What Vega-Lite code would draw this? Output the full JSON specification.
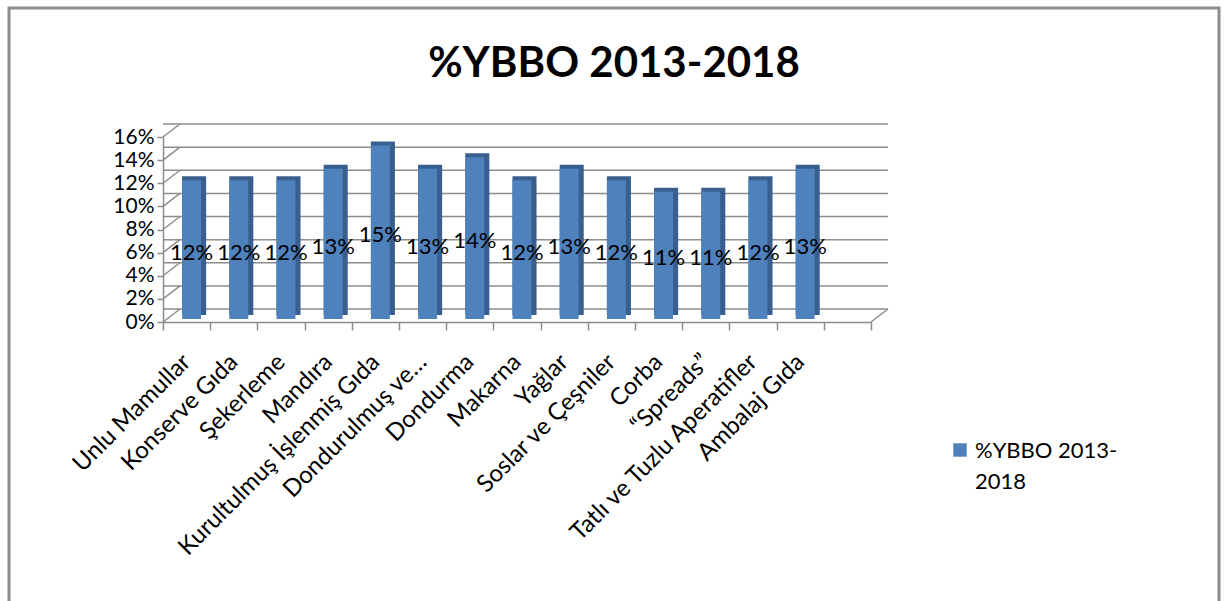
{
  "$schema": "https://vega.github.io/schema/vega-lite/v6.json",
  "width": 708,
  "height": 185,
  "autosize": {"type": "none"},
  "padding": {"left": 163, "top": 137, "right": 361, "bottom": 279},
  "background": "white",
  "config": {"view": {"stroke": null}, "font": "Lato"},
  "title": {
    "text": "%YBBO 2013-2018",
    "font": "Lato",
    "fontSize": 42,
    "fontWeight": "bold",
    "color": "black",
    "anchor": "middle",
    "frame": "group",
    "dx": 97,
    "baseline": "alphabetic",
    "offset": -112
  },
  "datasets": {
    "main": [
      {"cat": "Unlu  Mamullar", "v": 0.12, "series": "%YBBO 2013-2018"},
      {"cat": "Konserve Gıda", "v": 0.12, "series": "%YBBO 2013-2018"},
      {"cat": "Şekerleme", "v": 0.12, "series": "%YBBO 2013-2018"},
      {"cat": "Mandıra", "v": 0.13, "series": "%YBBO 2013-2018"},
      {"cat": "Kurultulmuş İşlenmiş Gıda", "v": 0.15, "series": "%YBBO 2013-2018"},
      {"cat": "Dondurulmuş ve…", "v": 0.13, "series": "%YBBO 2013-2018"},
      {"cat": "Dondurma", "v": 0.14, "series": "%YBBO 2013-2018"},
      {"cat": "Makarna", "v": 0.12, "series": "%YBBO 2013-2018"},
      {"cat": "Yağlar", "v": 0.13, "series": "%YBBO 2013-2018"},
      {"cat": "Soslar ve Çeşniler", "v": 0.12, "series": "%YBBO 2013-2018"},
      {"cat": "Corba", "v": 0.11, "series": "%YBBO 2013-2018"},
      {"cat": "“Spreads”", "v": 0.11, "series": "%YBBO 2013-2018"},
      {"cat": "Tatlı ve Tuzlu Aperatifler", "v": 0.12, "series": "%YBBO 2013-2018"},
      {"cat": "Ambalaj Gıda", "v": 0.13, "series": "%YBBO 2013-2018"}
    ],
    "grid": [
      {"g": 0}, {"g": 0.02}, {"g": 0.04}, {"g": 0.06}, {"g": 0.08},
      {"g": 0.1}, {"g": 0.12}, {"g": 0.14}, {"g": 0.16}
    ]
  },
  "resolve": {"scale": {"y": "independent"}},
  "layer": [
    {
      "data": {"values": [{}]},
      "mark": {"type": "rect", "fill": null, "stroke": "#8c8c8c", "strokeWidth": 3},
      "encoding": {
        "x": {"value": -154},
        "x2": {"value": 1056},
        "y": {"value": -129},
        "y2": {"value": 480}
      }
    },
    {
      "data": {"name": "grid"},
      "mark": {"type": "rule", "color": "#8c8c8c", "strokeWidth": 1.5, "xOffset": 17, "yOffset": -13},
      "encoding": {
        "y": {
          "field": "g", "type": "quantitative",
          "scale": {"domain": [0, 0.16], "nice": false, "zero": true},
          "axis": {
            "title": null,
            "values": [0, 0.02, 0.04, 0.06, 0.08, 0.1, 0.12, 0.14, 0.16],
            "format": ".0%",
            "labelFont": "Lato",
            "labelFontSize": 21,
            "labelColor": "black",
            "tickColor": "#8c8c8c",
            "domainColor": "#8c8c8c",
            "tickSize": 6,
            "tickWidth": 1.5,
            "domainWidth": 1.5,
            "labelPadding": 3,
            "grid": false
          }
        }
      }
    },
    {
      "data": {"name": "grid"},
      "mark": {"type": "rule", "color": "#8c8c8c", "strokeWidth": 1.5, "x2Offset": 17, "y2Offset": -13},
      "encoding": {
        "x": {"datum": "Unlu  Mamullar", "type": "nominal", "bandPosition": 0},
        "x2": {"datum": "Unlu  Mamullar", "bandPosition": 0},
        "y": {"field": "g", "type": "quantitative", "scale": {"domain": [0, 0.16], "nice": false}, "axis": null},
        "y2": {"field": "g"}
      }
    },
    {
      "data": {"values": [{"g": 0}]},
      "mark": {"type": "rule", "color": "#8c8c8c", "strokeWidth": 1.5, "x2Offset": 17, "y2Offset": -13},
      "encoding": {
        "x": {"datum": " ", "type": "nominal", "bandPosition": 1},
        "x2": {"datum": " ", "bandPosition": 1},
        "y": {"field": "g", "type": "quantitative", "scale": {"domain": [0, 0.16], "nice": false}, "axis": null},
        "y2": {"field": "g"}
      }
    },
    {
      "data": {"name": "main"},
      "mark": {"type": "bar", "color": "#395F8F", "width": {"band": 0.51}, "xOffset": 7.5, "yOffset": -7},
      "encoding": {
        "x": {
          "field": "cat", "type": "nominal", "sort": null,
          "scale": {
            "domain": ["Unlu  Mamullar", "Konserve Gıda", "Şekerleme", "Mandıra", "Kurultulmuş İşlenmiş Gıda", "Dondurulmuş ve…", "Dondurma", "Makarna", "Yağlar", "Soslar ve Çeşniler", "Corba", "“Spreads”", "Tatlı ve Tuzlu Aperatifler", "Ambalaj Gıda", " "],
            "paddingInner": 0, "paddingOuter": 0
          },
          "axis": {
            "title": null,
            "labelAngle": -45,
            "labelAlign": "right",
            "labelBaseline": "middle",
            "labelFont": "Lato",
            "labelFontSize": 24,
            "labelColor": "black",
            "labelPadding": 28,
            "labelLimit": 0,
            "labelOverlap": false,
            "tickBand": "extent",
            "tickColor": "#8c8c8c",
            "tickSize": 8,
            "tickWidth": 1.5,
            "domainColor": "#8c8c8c",
            "domainWidth": 1.5
          }
        },
        "y": {"field": "v", "type": "quantitative", "scale": {"domain": [0, 0.16], "nice": false}, "axis": null}
      }
    },
    {
      "data": {"name": "main"},
      "mark": {"type": "bar", "width": {"band": 0.4}, "xOffset": 5, "yOffset": -3},
      "encoding": {
        "x": {"field": "cat", "type": "nominal", "sort": null},
        "y": {"field": "v", "type": "quantitative", "scale": {"domain": [0, 0.16], "nice": false}, "axis": null},
        "color": {
          "field": "series", "type": "nominal",
          "scale": {"range": ["#4F81BD"]},
          "legend": {
            "title": null,
            "orient": "none",
            "legendX": 786,
            "legendY": 302,
            "padding": 0,
            "symbolType": "square",
            "symbolSize": 180,
            "symbolStrokeWidth": 0,
            "labelFont": "Lato",
            "labelFontSize": 22,
            "labelColor": "black",
            "labelLimit": 0,
            "labelBaseline": "top",
            "labelOffset": 4,
            "labelExpr": "['%YBBO 2013-', '2018']",
            "encode": {"labels": {"update": {"lineHeight": {"value": 31}, "dy": {"value": -9}}}}
          }
        }
      }
    },
    {
      "data": {"name": "main"},
      "mark": {"type": "text", "font": "Lato", "fontSize": 22, "color": "black", "xOffset": 5, "baseline": "middle"},
      "encoding": {
        "x": {"field": "cat", "type": "nominal", "sort": null},
        "y": {"field": "v", "type": "quantitative", "scale": {"domain": [0, 0.32], "nice": false}, "axis": null},
        "text": {"field": "v", "type": "quantitative", "format": ".0%"}
      }
    }
  ]
}
